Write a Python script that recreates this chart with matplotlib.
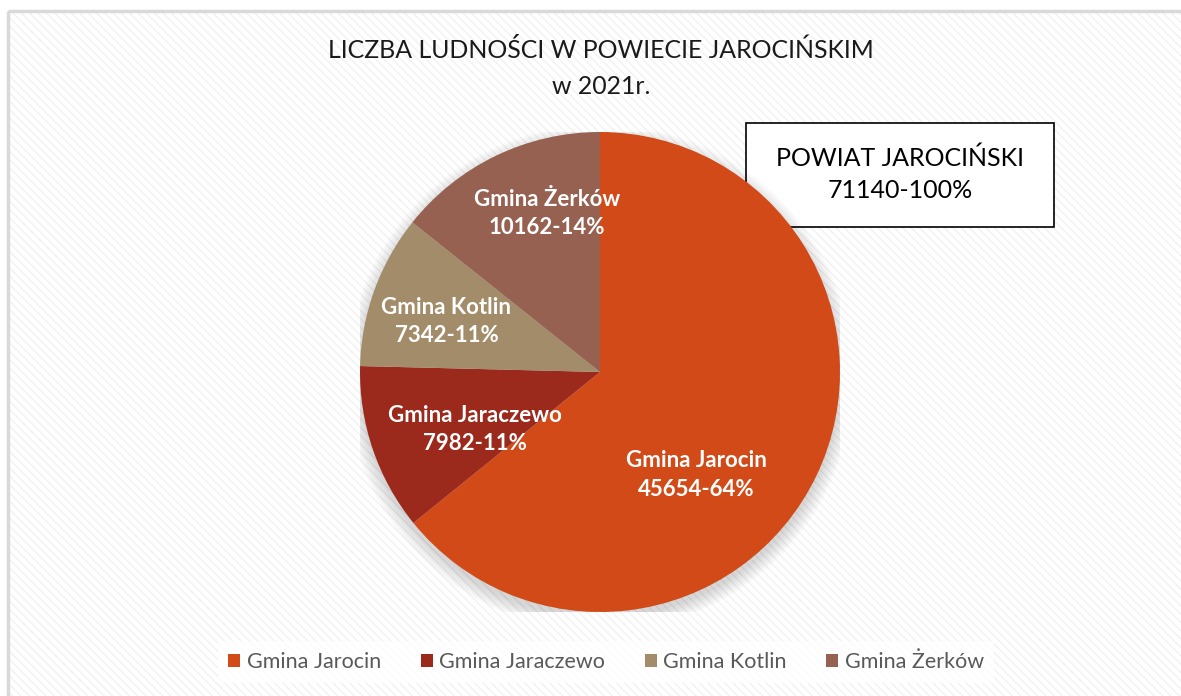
import matplotlib.pyplot as plt
from matplotlib.patches import Rectangle, Circle

names = ['Gmina Jarocin', 'Gmina Jaraczewo', 'Gmina Kotlin', 'Gmina Żerków']
population = [45654, 7982, 7342, 10162]
percents = [64, 11, 11, 14]
total = 71140
colors = ['#d24a17', '#9b2a1d', '#a38c69', '#976152']
# where Excel put the data labels, in pie units
label_pos = [(0.40, -0.43), (-0.52, -0.24), (-0.64, 0.21), (-0.22, 0.66)]

plt.rcParams['font.family'] = ['Lato', 'DejaVu Sans']

W, H = 1181, 696
fig = plt.figure(figsize=(W / 100, H / 100), dpi=100)
fig.patch.set_facecolor('white')

# background axes in pixel coordinates
bg = fig.add_axes([0, 0, 1, 1])
bg.set_xlim(0, W)
bg.set_ylim(H, 0)
bg.axis('off')
bg.add_patch(Rectangle((8, 11), W + 20, H, facecolor='white',
                       edgecolor='#f1f1f1', hatch='\\\\\\\\', linewidth=0))
bg.add_patch(Rectangle((8, 11), W + 20, H, facecolor='none',
                       edgecolor='#d9d9d9', linewidth=2.5))

bg.text(601, 50, 'LICZBA LUDNOŚCI W POWIECIE JAROCIŃSKIM', ha='center',
        va='center', fontsize=17.9, color='#1a1a1a')
bg.text(601, 86, 'w 2021r.', ha='center', va='center', fontsize=17.9,
        color='#1a1a1a')

bg.add_patch(Rectangle((746, 123), 308, 104, facecolor='white',
                       edgecolor='black', linewidth=1.2, zorder=5))
bg.text(900, 158, 'POWIAT JAROCIŃSKI', ha='center', va='center',
        fontsize=18, color='black', zorder=6)
bg.text(900, 190, f'{total}-100%', ha='center', va='center',
        fontsize=18, color='black', zorder=6)

# pie
ax = fig.add_axes([360 / W, 84 / H, 480 / W, 480 / H])
for i in range(8):
    ax.add_patch(Circle((0.0, -0.025), 1.0 + i * 0.008, facecolor='#000000',
                        alpha=0.018, linewidth=0, zorder=0))
wedges, _ = ax.pie(population, colors=colors, startangle=90,
                   counterclock=False, radius=1,
                   wedgeprops=dict(linewidth=0))
for w in wedges:
    w.set_zorder(2)
for i in range(len(names)):
    ax.text(label_pos[i][0], label_pos[i][1],
            f'{names[i]}\n{population[i]}-{percents[i]}%',
            ha='center', va='center', fontsize=16, fontweight='bold',
            color='white', linespacing=1.45, zorder=3)
ax.set_xlim(-1, 1)
ax.set_ylim(-1, 1)
ax.set_aspect('equal')
ax.axis('off')

leg = fig.legend(wedges, names, loc='center', bbox_to_anchor=(606 / W, 1 - 662 / H),
                 ncol=4, frameon=True, fancybox=False, fontsize=15.5,
                 handlelength=0.55, handleheight=0.55, handletextpad=0.3,
                 columnspacing=1.85, borderpad=0.5)
leg.get_frame().set_facecolor('white')
leg.get_frame().set_edgecolor('none')
for t in leg.get_texts():
    t.set_color('#595959')

fig.savefig('out.png', dpi=100)
